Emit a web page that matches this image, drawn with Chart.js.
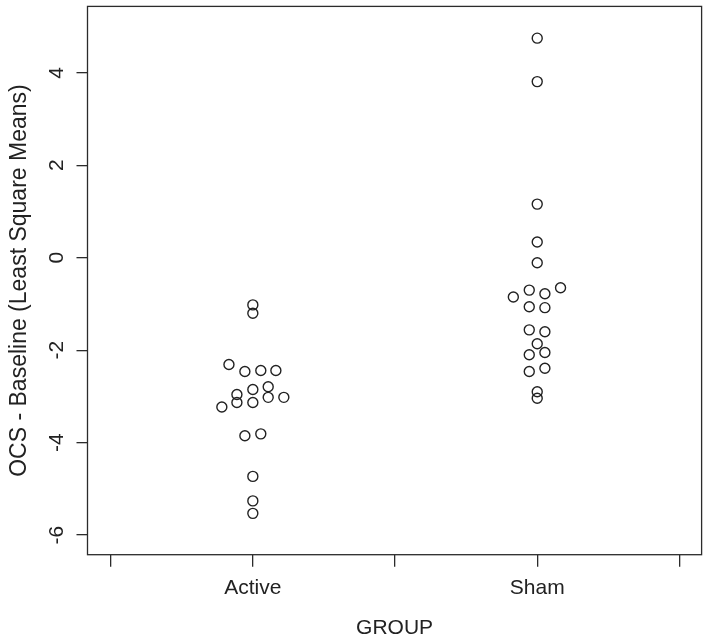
<!DOCTYPE html>
<html>
<head>
<meta charset="utf-8">
<script src="https://cdn.jsdelivr.net/npm/chart.js@4.4.1/dist/chart.umd.min.js"></script>
<style>
  html, body { margin: 0; padding: 0; background: #fff; }
  #wrap { width: 708px; height: 641px; }
</style>
</head>
<body>
<div id="wrap"><canvas id="stripChart" width="708" height="641"></canvas></div>
<script>
// groups on the x axis (positions 1 and 2)
var groups = ['Active', 'Sham'];

// OCS - Baseline values
var activeValues  = [-1.02, -1.20, -2.31, -2.46, -2.44, -2.44, -2.85, -2.79, -2.96, -3.02, -3.02, -3.23, -3.13, -3.13, -3.85, -3.81, -4.73, -5.26, -5.53];
// sideways swarm offset of each point from the group centre (x units)
var activeOffsets = [0, 0, -0.084, -0.028, 0.028, 0.081, 0, 0.054, -0.056, 0.054, 0.109, -0.109, -0.056, 0, -0.028, 0.028, 0, 0, 0];

var shamValues  = [4.75, 3.81, 1.16, 0.34, -0.11, -0.85, -0.70, -0.78, -0.65, -1.06, -1.08, -1.56, -1.60, -1.86, -2.10, -2.05, -2.46, -2.39, -2.90, -3.04];
var shamOffsets = [0, 0, 0, 0, 0, -0.084, -0.028, 0.027, 0.082, -0.028, 0.027, -0.028, 0.027, 0, -0.028, 0.027, -0.028, 0.027, 0, 0];

var xTicks = [0.5, 1, 1.5, 2, 2.5];
var yTicks = [-6, -4, -2, 0, 2, 4];

var ink = '#2b2b2b';
var fontFamily = '"Liberation Sans", Arial, Helvetica, sans-serif';

function toPoints(values, offsets, centre) {
    return values.map(function(v, i) {
        return { x: centre + offsets[i], y: v };
    });
}

// box round the plot area, like R's bty="o"
var boxPlugin = {
    id: 'plotBox',
    afterDraw: function(chart) {
        var a = chart.chartArea;
        var ctx = chart.ctx;
        ctx.save();
        ctx.strokeStyle = ink;
        ctx.lineWidth = 1.3;
        ctx.strokeRect(a.left, a.top, a.right - a.left, a.bottom - a.top);
        ctx.restore();
    }
};

document.addEventListener('DOMContentLoaded', function() {
    var ctx = document.getElementById('stripChart').getContext('2d');
    var pointStyle = {
        showLine: false,
        pointStyle: 'circle',
        pointRadius: 5,
        pointHoverRadius: 5,
        pointBorderWidth: 1.4,
        pointBorderColor: '#222',
        pointBackgroundColor: 'rgba(255,255,255,0)'
    };

    new Chart(ctx, {
        type: 'scatter',
        data: {
            datasets: [
                Object.assign({ label: groups[0], data: toPoints(activeValues, activeOffsets, 1) }, pointStyle),
                Object.assign({ label: groups[1], data: toPoints(shamValues, shamOffsets, 2) }, pointStyle)
            ]
        },
        options: {
            responsive: false,
            animation: false,
            layout: { padding: { top: 4, right: 5, left: 0, bottom: 0 } },
            plugins: {
                legend: { display: false },
                tooltip: { enabled: false }
            },
            scales: {
                x: {
                    type: 'linear',
                    min: 0.4186,
                    max: 2.578,
                    afterBuildTicks: function(scale) {
                        scale.ticks = xTicks.map(function(v) { return { value: v }; });
                    },
                    afterFit: function(scale) {
                        scale.height = 86.3;
                        scale.paddingLeft = 0;
                        scale.paddingRight = 0;
                    },
                    border: { display: false },
                    grid: { drawOnChartArea: false, drawTicks: true, tickLength: 12, color: ink, lineWidth: 1.3 },
                    ticks: {
                        padding: 9,
                        color: '#222',
                        font: { family: fontFamily, size: 21 },
                        callback: function(value) {
                            return Number.isInteger(value) ? groups[value - 1] : '';
                        }
                    },
                    title: {
                        display: true,
                        text: 'GROUP',
                        color: '#222',
                        font: { family: fontFamily, size: 21 },
                        padding: { top: 0, bottom: 0 }
                    }
                },
                y: {
                    type: 'linear',
                    min: -6.424,
                    max: 5.437,
                    afterBuildTicks: function(scale) {
                        scale.ticks = yTicks.map(function(v) { return { value: v }; });
                    },
                    afterFit: function(scale) {
                        scale.width = 87.5;
                        scale.paddingTop = 0;
                        scale.paddingBottom = 0;
                    },
                    border: { display: false },
                    grid: { drawOnChartArea: false, drawTicks: true, tickLength: 11, color: ink, lineWidth: 1.3 },
                    ticks: {
                        padding: 10,
                        minRotation: 90,
                        maxRotation: 90,
                        crossAlign: 'center',
                        color: '#222',
                        font: { family: fontFamily, size: 21 }
                    },
                    title: {
                        display: true,
                        text: 'OCS - Baseline (Least Square Means)',
                        color: '#222',
                        font: { family: fontFamily, size: 23 },
                        padding: { top: 6, bottom: 0 }
                    }
                }
            }
        },
        plugins: [boxPlugin]
    });
});
</script>
</body>
</html>
